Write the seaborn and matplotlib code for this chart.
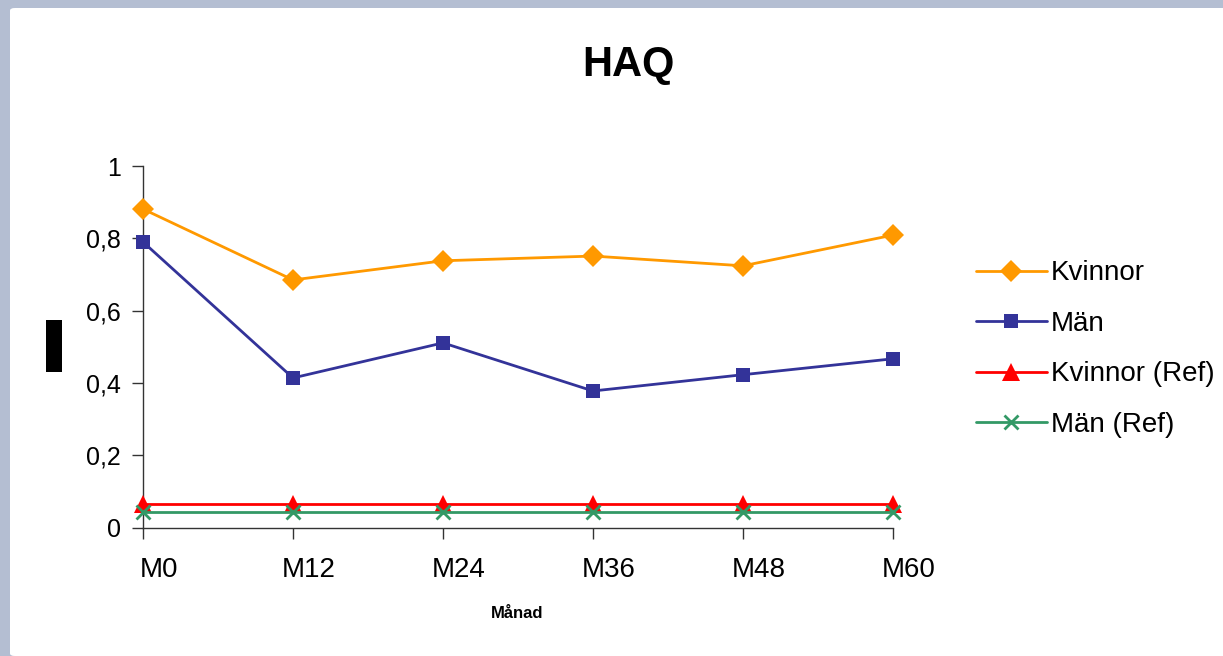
import numpy as np
import pandas as pd
import matplotlib
matplotlib.use("Agg")
import matplotlib.pyplot as plt
import matplotlib.transforms as mtransforms
from matplotlib.patches import FancyBboxPatch, Rectangle
from matplotlib.lines import Line2D
import seaborn as sns

# data
months = ["M0", "M12", "M24", "M36", "M48", "M60"]
kvinnor = [0.881, 0.685, 0.738, 0.751, 0.724, 0.809]
man = [0.790, 0.414, 0.511, 0.378, 0.423, 0.467]
kvinnor_ref = [0.065, 0.065, 0.065, 0.065, 0.065, 0.065]
man_ref = [0.043, 0.043, 0.043, 0.043, 0.043, 0.043]

series_names = ["Kvinnor", "Män", "Kvinnor (Ref)", "Män (Ref)"]
series_values = [kvinnor, man, kvinnor_ref, man_ref]
colors = ["#FF9900", "#333399", "#FF0000", "#339966"]
markers = ["D", "s", "^", "x"]
marker_sizes = [11.5, 10.3, 13, 10]

sns.set_style("white")
plt.rcParams["font.family"] = ["Liberation Sans", "DejaVu Sans"]
plt.rcParams["text.color"] = "black"
plt.rcParams["xtick.color"] = "black"
plt.rcParams["ytick.color"] = "black"

fig = plt.figure(figsize=(12.23, 6.56), dpi=100)
fig.patch.set_facecolor("#B4BED2")
fig.patches.append(FancyBboxPatch((10 / 1223, 0), 1.2, 1 - 8 / 656,
                                  boxstyle="round,pad=0,rounding_size=0.004",
                                  transform=fig.transFigure, facecolor="white",
                                  edgecolor="none", zorder=-5))

ax = fig.add_axes([143 / 1223, 1 - 527.7 / 656, 750 / 1223, 361.7 / 656])
ax.set_facecolor("none")

x_pos = np.arange(len(months))
for i, (name, vals, c, m, ms) in enumerate(zip(series_names, series_values,
                                               colors, markers, marker_sizes)):
    edge = 2 if m == "x" else 0
    sns.lineplot(x=x_pos, y=vals, color=c, marker=m, markersize=ms,
                 markeredgewidth=edge, markeredgecolor=c, linewidth=2,
                 ax=ax, clip_on=False, zorder=3 + i)

ax.set_xlim(0, 5)
ax.set_ylim(0, 1)
ax.set_xticks(x_pos)
ax.set_xticklabels(months)
ax.set_yticks([0, 0.2, 0.4, 0.6, 0.8, 1.0])
ax.set_yticklabels(["0", "0,2", "0,4", "0,6", "0,8", "1"])
ax.tick_params(axis="both", length=8, width=1, color="#333333",
               direction="out", bottom=True, left=True)
ax.tick_params(axis="y", pad=8, labelsize=18)
ax.tick_params(axis="x", pad=13, labelsize=20)
# x labels sit a bit to the right of their ticks in the original
offset = mtransforms.ScaledTranslation(16 / 100, 0, fig.dpi_scale_trans)
for lbl in ax.get_xticklabels():
    lbl.set_transform(lbl.get_transform() + offset)
for s in ["top", "right"]:
    ax.spines[s].set_visible(False)
for s in ["left", "bottom"]:
    ax.spines[s].set_color("#333333")
    ax.spines[s].set_linewidth(1)
ax.set_xlabel("")
ax.set_ylabel("")

fig.text(628 / 1223, 1 - 65 / 656, "HAQ", ha="center", va="center",
         fontsize=30, fontweight="bold")
fig.text(517 / 1223, 1 - 614 / 656, "Månad", ha="center", va="center",
         fontsize=12, fontweight="bold")
# black block where the y-axis title was
fig.patches.append(Rectangle((46 / 1223, 1 - 372 / 656), 16 / 1223, 52 / 656,
                             transform=fig.transFigure, facecolor="black",
                             edgecolor="none"))

# legend
handles = []
for name, c, m, ms in zip(series_names, colors, markers, marker_sizes):
    handles.append(Line2D([], [], color=c, marker=m, markersize=ms,
                          linewidth=2, markeredgewidth=2 if m == "x" else 0,
                          markeredgecolor=c))
fig.legend(handles, series_names, loc="center left",
           bbox_to_anchor=(951 / 1223, 1 - 349 / 656), frameon=False,
           fontsize=20, handlelength=2.55, labelspacing=0.88, handletextpad=0.15)

fig.savefig("out.png", dpi=100, facecolor=fig.get_facecolor())
